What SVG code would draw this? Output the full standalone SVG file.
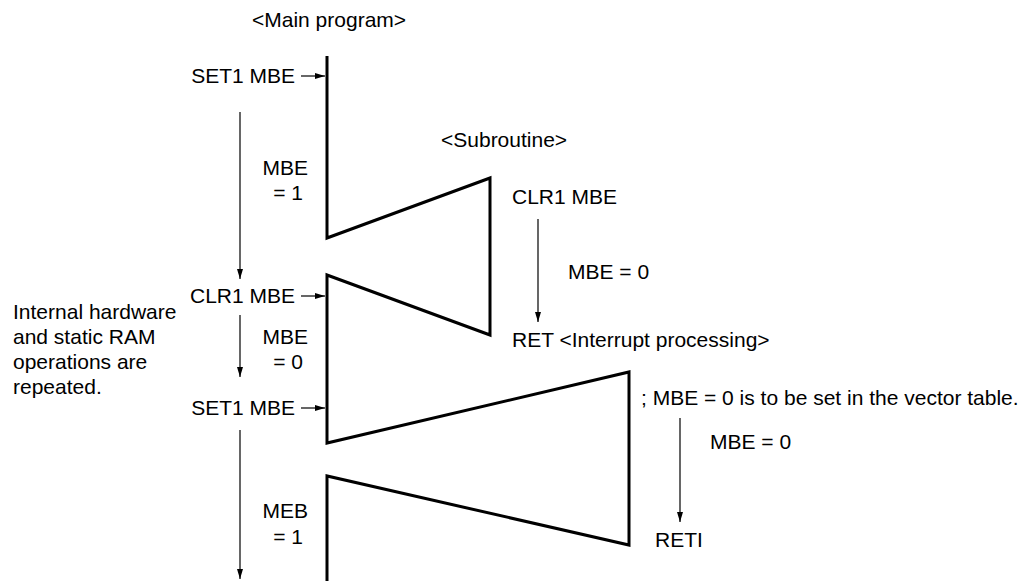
<svg xmlns="http://www.w3.org/2000/svg" width="1028" height="581" viewBox="0 0 1028 581">
<defs>
<marker id="ah" viewBox="0 0 10 10" refX="10" refY="5" markerWidth="10" markerHeight="10" markerUnits="userSpaceOnUse" orient="auto">
<path d="M0,2 L10,5 L0,8 z" fill="#000"/>
</marker>
<style>
text{font-family:"Liberation Sans",Arial,sans-serif;font-size:21px;fill:#000}
.thick{fill:none;stroke:#000;stroke-width:3;stroke-linejoin:miter}
.arr{fill:none;stroke:#000;stroke-width:1.2;marker-end:url(#ah)}
</style>
</defs>
<rect width="1028" height="581" fill="#fff"/>
<g id="flow">
<polyline class="thick" points="327,56 327,238 490,178 490,335 327,275 327,443 629,372 629,545 327,476 327,581"/>
</g>
<g id="main">
<text x="252" y="27">&lt;Main program&gt;</text>
<text x="295" y="83" text-anchor="end">SET1 MBE</text>
<text x="308" y="175" text-anchor="end">MBE</text>
<text x="303" y="200" text-anchor="end">= 1</text>
<text x="295" y="303" text-anchor="end">CLR1 MBE</text>
<text x="308" y="344" text-anchor="end">MBE</text>
<text x="303" y="369" text-anchor="end">= 0</text>
<text x="295" y="415" text-anchor="end">SET1 MBE</text>
<text x="308" y="518" text-anchor="end">MEB</text>
<text x="303" y="544" text-anchor="end">= 1</text>
</g>
<g id="note">
<text x="13" y="319"><tspan x="13">Internal hardware</tspan><tspan x="13" dy="25">and static RAM</tspan><tspan x="13" dy="25">operations are</tspan><tspan x="13" dy="25">repeated.</tspan></text>
</g>
<g id="subroutine">
<text x="441" y="147">&lt;Subroutine&gt;</text>
<text x="512" y="204">CLR1 MBE</text>
<text x="568" y="279">MBE = 0</text>
<text x="512" y="347">RET &lt;Interrupt processing&gt;</text>
</g>
<g id="interrupt">
<text x="641" y="405">; MBE = 0 is to be set in the vector table.</text>
<text x="710" y="449">MBE = 0</text>
<text x="655" y="547">RETI</text>
</g>
<g id="connectors">
<line class="arr" x1="301" y1="76" x2="325" y2="76"/>
<line class="arr" x1="301" y1="296" x2="325" y2="296"/>
<line class="arr" x1="301" y1="408" x2="325" y2="408"/>
<line class="arr" x1="240" y1="112" x2="240" y2="279"/>
<line class="arr" x1="240" y1="315" x2="240" y2="377"/>
<line class="arr" x1="240" y1="430" x2="240" y2="579"/>
<line class="arr" x1="538" y1="219" x2="538" y2="322"/>
<line class="arr" x1="680" y1="418" x2="680" y2="522"/>
</g>
</svg>
